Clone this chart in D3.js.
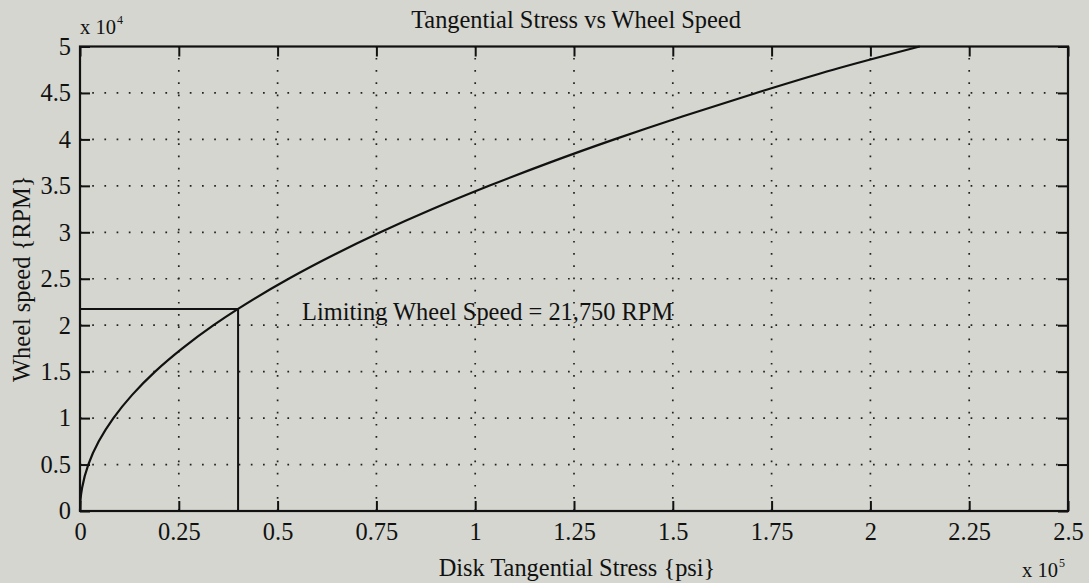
<!DOCTYPE html>
<html>
<head>
<meta charset="utf-8">
<script src="https://cdn.jsdelivr.net/npm/d3@7"></script>
<style>
  html, body { margin: 0; padding: 0; background: #d4d6cf; }
  svg { display: block; }
  text { font-family: "Liberation Serif", "Times New Roman", serif; fill: #111; }
</style>
</head>
<body>
<svg id="chart" width="1089" height="583"></svg>
<script>
// Disk tangential stress (psi) against wheel speed (RPM)
const stressPsi = [0, 130, 530, 2100, 4750, 8450, 13200, 19000, 25900, 33800, 40000,
                   52800, 63900, 76000, 89200, 103500, 118800, 135200, 152600,
                   171100, 190600, 212500];
const speedRpm  = [0, 1250, 2500, 5000, 7500, 10000, 12500, 15000, 17500, 20000, 21750,
                   25000, 27500, 30000, 32500, 35000, 37500, 40000, 42500,
                   45000, 47500, 50000];

// Limiting operating point
const limitStress = [40000];
const limitSpeed = [21750];
const limitLabel = ["Limiting Wheel Speed = 21,750 RPM"];

// Tick values and their labels (scaled by 10^5 and 10^4)
const xTickValues = [0, 25000, 50000, 75000, 100000, 125000, 150000, 175000, 200000, 225000, 250000];
const xTickLabels = ["0", "0.25", "0.5", "0.75", "1", "1.25", "1.5", "1.75", "2", "2.25", "2.5"];
const yTickValues = [0, 5000, 10000, 15000, 20000, 25000, 30000, 35000, 40000, 45000, 50000];
const yTickLabels = ["0", "0.5", "1", "1.5", "2", "2.5", "3", "3.5", "4", "4.5", "5"];

const svg = d3.select("#chart");
const plotL = 80, plotR = 1068, plotT = 46.5, plotB = 511;
const fs = 24.4;

const x = d3.scaleLinear().domain([0, 250000]).range([plotL, plotR]);
const y = d3.scaleLinear().domain([0, 50000]).range([plotB, plotT]);

// dotted grid
const grid = svg.append("g")
  .attr("stroke", "#222").attr("stroke-width", 1.7)
  .attr("stroke-dasharray", "1.7 10.5").attr("fill", "none");
grid.selectAll("line.gx").data(xTickValues.slice(1, -1)).join("line")
  .attr("class", "gx")
  .attr("x1", d => x(d)).attr("x2", d => x(d))
  .attr("y1", plotB).attr("y2", plotT);
grid.selectAll("line.gy").data(yTickValues.slice(1, -1)).join("line")
  .attr("class", "gy")
  .attr("x1", plotL).attr("x2", plotR)
  .attr("y1", d => y(d)).attr("y2", d => y(d));

// axes with inward ticks on all four sides
function styleAxis(g) {
  g.selectAll(".domain").remove();
  g.selectAll(".tick line").attr("stroke", "#111").attr("stroke-width", 2);
  g.selectAll(".tick text").attr("font-size", fs).attr("fill", "#111")
    .attr("font-family", "Liberation Serif, Times New Roman, serif");
}
const xFmt = (d, i) => xTickLabels[i];
const yFmt = (d, i) => yTickLabels[i];

svg.append("g").attr("transform", `translate(0,${plotB})`)
  .call(d3.axisBottom(x).tickValues(xTickValues).tickFormat(xFmt).tickSize(-10).tickPadding(12))
  .call(styleAxis);
svg.append("g").attr("transform", `translate(0,${plotT})`)
  .call(d3.axisTop(x).tickValues(xTickValues).tickFormat("").tickSize(-10))
  .call(styleAxis);
svg.append("g").attr("transform", `translate(${plotL},0)`)
  .call(d3.axisLeft(y).tickValues(yTickValues).tickFormat(yFmt).tickSize(-10).tickPadding(9))
  .call(styleAxis);
svg.append("g").attr("transform", `translate(${plotR},0)`)
  .call(d3.axisRight(y).tickValues(yTickValues).tickFormat("").tickSize(-10))
  .call(styleAxis);

// axes box
svg.append("rect")
  .attr("x", plotL).attr("y", plotT)
  .attr("width", plotR - plotL).attr("height", plotB - plotT)
  .attr("fill", "none").attr("stroke", "#111").attr("stroke-width", 2.2);

// stress/speed curve
const pts = stressPsi.map((s, i) => [s, speedRpm[i]]);
svg.append("path")
  .datum(pts)
  .attr("fill", "none").attr("stroke", "#111").attr("stroke-width", 2.2)
  .attr("d", d3.line().x(d => x(d[0])).y(d => y(d[1])).curve(d3.curveMonotoneY));

// limiting-speed guide lines
svg.append("path")
  .attr("fill", "none").attr("stroke", "#111").attr("stroke-width", 2)
  .attr("d", `M${x(0)},${y(limitSpeed[0])}H${x(limitStress[0])}V${y(0)}`);

svg.append("text")
  .attr("x", x(limitStress[0]) + 64).attr("y", y(limitSpeed[0]) + 11.5)
  .attr("font-size", fs)
  .text(limitLabel[0]);

// title and axis labels
svg.append("text")
  .attr("x", 576).attr("y", 28)
  .attr("text-anchor", "middle").attr("font-size", fs)
  .text("Tangential Stress vs Wheel Speed");

svg.append("text")
  .attr("x", 577).attr("y", 576)
  .attr("text-anchor", "middle").attr("font-size", fs)
  .text("Disk Tangential Stress {psi}");

svg.append("text")
  .attr("transform", `translate(30,${(plotT + plotB) / 2}) rotate(-90)`)
  .attr("text-anchor", "middle").attr("font-size", fs)
  .text("Wheel speed {RPM}");

// exponent labels
const ex = svg.append("text").attr("x", plotL).attr("y", 34).attr("font-size", 20.5);
ex.append("tspan").text("x 10");
ex.append("tspan").attr("dy", -10).attr("dx", 1).attr("font-size", 12).text("4");

const ex5 = svg.append("text").attr("x", 1022).attr("y", 577).attr("font-size", 20.5);
ex5.append("tspan").text("x 10");
ex5.append("tspan").attr("dy", -10).attr("dx", 1).attr("font-size", 12).text("5");
</script>
</body>
</html>
